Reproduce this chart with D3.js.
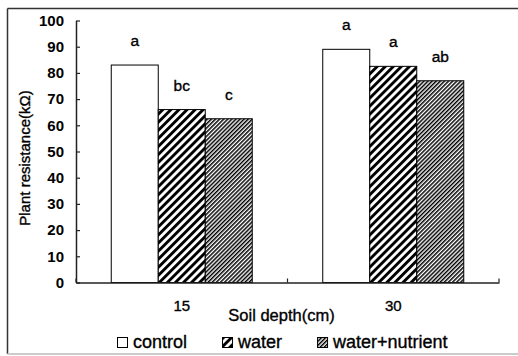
<!DOCTYPE html>
<html>
<head>
<meta charset="utf-8">
<script src="https://cdn.jsdelivr.net/npm/d3@7"></script>
<style>
  body { margin: 0; background: #fff; }
  svg { display: block; }
  text { font-family: "Liberation Sans", Arial, sans-serif; fill: #000; stroke: #000; stroke-width: 0.35px; }
</style>
</head>
<body>
<div id="chart"></div>
<script>
var depths = ["15", "30"];
var treatments = ["control", "water", "water+nutrient"];
var control = [83, 89];
var water = [66, 82.5];
var waterNutrient = [62.5, 77];
var letters = [["a", "bc", "c"], ["a", "a", "ab"]];
var yTicks = [0, 10, 20, 30, 40, 50, 60, 70, 80, 90, 100];

var w = 518, h = 356;
var plotLeft = 76, plotRight = 499, plotTop = 20.5, plotBottom = 282.5;

var svg = d3.select("#chart").append("svg")
  .attr("width", w)
  .attr("height", h);

var defs = svg.append("defs");

// thick "/" stripes for water
var p1 = defs.append("pattern")
  .attr("id", "hatchWide")
  .attr("patternUnits", "userSpaceOnUse")
  .attr("width", 5.7).attr("height", 5.7)
  .attr("patternTransform", "rotate(45)");
p1.append("rect").attr("width", 5.7).attr("height", 5.7).attr("fill", "#fff");
p1.append("rect").attr("width", 2.9).attr("height", 5.7).attr("fill", "#000");

// fine "/" stripes for water+nutrient
var p2 = defs.append("pattern")
  .attr("id", "hatchFine")
  .attr("patternUnits", "userSpaceOnUse")
  .attr("width", 2.9).attr("height", 2.9)
  .attr("patternTransform", "rotate(45)");
p2.append("rect").attr("width", 2.9).attr("height", 2.9).attr("fill", "#fff");
p2.append("rect").attr("width", 1.5).attr("height", 2.9).attr("fill", "#000");

var fills = ["#fff", "url(#hatchWide)", "url(#hatchFine)"];

// frame
svg.append("line").attr("x1", 7.5).attr("x2", w).attr("y1", 8.5).attr("y2", 8.5)
  .attr("stroke", "#333").attr("stroke-width", 1.5);
svg.append("line").attr("x1", 7.5).attr("x2", 7.5).attr("y1", 8.5).attr("y2", 354)
  .attr("stroke", "#333").attr("stroke-width", 1.5);
svg.append("line").attr("x1", 7.5).attr("x2", w).attr("y1", 354).attr("y2", 354)
  .attr("stroke", "#ccc").attr("stroke-width", 2);

var x0 = d3.scaleBand()
  .domain(depths)
  .range([plotLeft, plotRight]);

var groupW = x0.bandwidth() * 2 / 3;
var x1 = d3.scaleBand()
  .domain(treatments)
  .range([-groupW / 2, groupW / 2]);

var y = d3.scaleLinear()
  .domain([0, 100])
  .range([plotBottom, plotTop]);

var rows = depths.map(function(d, i) {
  return {
    depth: d,
    values: [
      { key: "control", value: control[i], letter: letters[i][0] },
      { key: "water", value: water[i], letter: letters[i][1] },
      { key: "water+nutrient", value: waterNutrient[i], letter: letters[i][2] }
    ]
  };
});

var groups = svg.selectAll("g.group")
  .data(rows)
  .enter()
  .append("g")
  .attr("class", "group")
  .attr("transform", function(d) { return "translate(" + (x0(d.depth) + x0.bandwidth() / 2) + ",0)"; });

groups.selectAll("rect")
  .data(function(d) { return d.values; })
  .enter()
  .append("rect")
  .attr("x", function(d) { return x1(d.key); })
  .attr("y", function(d) { return y(d.value); })
  .attr("width", x1.bandwidth())
  .attr("height", function(d) { return plotBottom - y(d.value); })
  .attr("fill", function(d, i) { return fills[i]; })
  .attr("stroke", "#000")
  .attr("stroke-width", 1);

groups.selectAll("text.letter")
  .data(function(d) { return d.values; })
  .enter()
  .append("text")
  .attr("class", "letter")
  .attr("x", function(d) { return x1(d.key) + x1.bandwidth() / 2; })
  .attr("y", function(d) { return y(d.value) - 19; })
  .attr("text-anchor", "middle")
  .attr("font-size", "15.5px")
  .text(function(d) { return d.letter; });

// y axis, ticks pointing inward
var yAxis = svg.append("g")
  .attr("transform", "translate(" + plotLeft + ",0)")
  .call(d3.axisLeft(y).tickValues(yTicks).tickSizeInner(-4).tickSizeOuter(0).tickPadding(12));
yAxis.select(".domain").attr("stroke", "#222").attr("stroke-width", 1.5);
yAxis.selectAll(".tick line").attr("stroke", "#222").attr("stroke-width", 1.2);
yAxis.selectAll(".tick text")
  .attr("font-size", "15px")
  .attr("font-weight", "bold")
  .style("stroke-width", "0px")
  .attr("font-family", "'Liberation Sans', Arial, sans-serif");

// x axis: labels at centres, ticks at band edges
var xAxis = svg.append("g")
  .attr("transform", "translate(0," + plotBottom + ")")
  .call(d3.axisBottom(x0).tickSize(0).tickPadding(18));
xAxis.select(".domain").attr("stroke", "#222").attr("stroke-width", 1.5);
xAxis.selectAll(".tick text")
  .attr("font-size", "15px")
  .attr("font-family", "'Liberation Sans', Arial, sans-serif");

var edges = depths.map(function(d) { return x0(d); }).concat([x0.range()[1]]);
svg.selectAll("line.edge")
  .data(edges)
  .enter()
  .append("line")
  .attr("class", "edge")
  .attr("x1", function(d) { return d; })
  .attr("x2", function(d) { return d; })
  .attr("y1", plotBottom)
  .attr("y2", plotBottom - 4)
  .attr("stroke", "#222")
  .attr("stroke-width", 1.2);

// axis titles
svg.append("text")
  .attr("x", (plotLeft + plotRight) / 2 - 6)
  .attr("y", 321)
  .attr("text-anchor", "middle")
  .attr("font-size", "16.5px")
  .text("Soil depth(cm)");

svg.append("text")
  .attr("transform", "translate(30," + 158 + ") rotate(-90)")
  .attr("text-anchor", "middle")
  .attr("font-size", "15px")
  .text("Plant resistance(kΩ)");

// legend
var legend = svg.append("g").attr("transform", "translate(117,337)");
var lx = 0;
treatments.forEach(function(t, i) {
  var item = legend.append("g").attr("transform", "translate(" + lx + ",0)");
  item.append("rect")
    .attr("x", 0.5).attr("y", 0.5)
    .attr("width", 10).attr("height", 10)
    .attr("fill", fills[i])
    .attr("stroke", "#000")
    .attr("stroke-width", 1);
  var label = item.append("text")
    .attr("x", 16)
    .attr("y", 11)
    .attr("font-size", "18px")
    .text(t);
  lx += 16 + label.node().getComputedTextLength() + 35;
});
</script>
</body>
</html>
